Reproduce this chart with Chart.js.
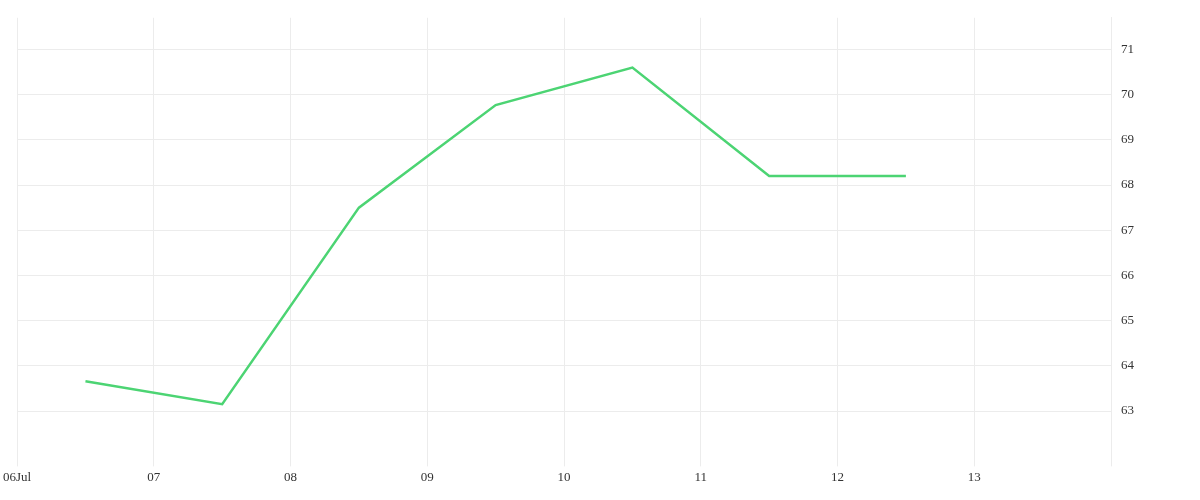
<!DOCTYPE html>
<html>
<head>
<meta charset="utf-8">
<script src="https://cdn.jsdelivr.net/npm/chart.js@4/dist/chart.umd.min.js"></script>
<style>
html, body { margin: 0; padding: 0; background: #fff; }
#wrap { width: 1200px; height: 500px; }
</style>
</head>
<body>
<div id="wrap"><canvas id="chart"></canvas></div>
<script>
// day offsets from 06 Jul (points sit in the middle of each day)
const days = [0.5, 1.5, 2.5, 3.5, 4.5, 5.5, 6.5];
const values = [63.66, 63.15, 67.5, 69.77, 70.6, 68.2, 68.2];
const dayLabels = ['06Jul', '07', '08', '09', '10', '11', '12', '13'];
const yTicks = [63, 64, 65, 66, 67, 68, 69, 70, 71];

let ctx = document.getElementById('chart').getContext('2d');
let chart = new Chart(ctx, {
    type: 'line',
    data: {
        datasets: [{
            data: days.map((d, i) => ({ x: d, y: values[i] })),
            borderColor: '#4cd473',
            borderWidth: 2.5,
            pointRadius: 0,
            tension: 0,
            fill: false
        }]
    },
    options: {
        responsive: true,
        maintainAspectRatio: false,
        animation: false,
        layout: { padding: { left: 15, top: 8, right: 56, bottom: 12 } },
        plugins: { legend: { display: false }, tooltip: { enabled: false } },
        scales: {
            x: {
                type: 'linear',
                min: 0,
                max: 8,
                afterBuildTicks: (s) => { s.ticks = dayLabels.map((_, i) => ({ value: i })).concat([{ value: 8 }]); },
                ticks: {
                    autoSkip: false,
                    maxRotation: 0,
                    color: '#333',
                    font: { family: 'Liberation Serif', size: 13 },
                    callback: (v) => dayLabels[v] || ''
                },
                grid: { color: '#ececec', tickLength: 7 },
                border: { display: false }
            },
            y: {
                position: 'right',
                min: 61.93,
                max: 71.7,
                afterBuildTicks: (s) => { s.ticks = yTicks.map(v => ({ value: v })); },
                ticks: {
                    color: '#333',
                    padding: 10,
                    font: { family: 'Liberation Serif', size: 13 }
                },
                grid: { color: '#ececec', drawTicks: false },
                border: { color: '#ececec' }
            }
        }
    }
});
</script>
</body>
</html>
